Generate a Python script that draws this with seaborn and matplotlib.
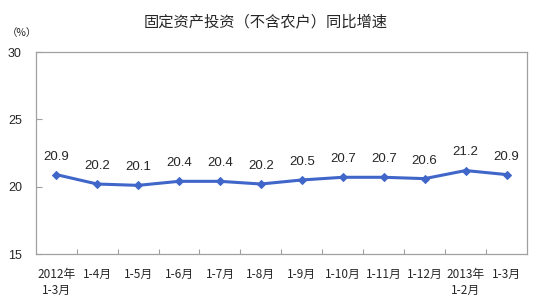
import matplotlib
matplotlib.use("Agg")
import matplotlib.pyplot as plt
import seaborn as sns
import pandas as pd
from matplotlib.ticker import FixedLocator

categories = ["2012年\n1-3月", "1-4月", "1-5月", "1-6月", "1-7月", "1-8月",
              "1-9月", "1-10月", "1-11月", "1-12月", "2013年\n1-2月", "1-3月"]
values = [20.9, 20.2, 20.1, 20.4, 20.4, 20.2, 20.5, 20.7, 20.7, 20.6, 21.2, 20.9]
yticks = [15, 20, 25, 30]
title = "固定资产投资（不含农户）同比增速"

sns.set_theme(style="white")
plt.rcParams['font.family'] = ['Noto Sans CJK SC', 'DejaVu Sans']
plt.rcParams['xtick.direction'] = 'in'
plt.rcParams['ytick.direction'] = 'in'

df = pd.DataFrame({"idx": range(len(categories)), "val": values})

fig = plt.figure(figsize=(5.53, 3.05), dpi=100)
ax = fig.add_axes([0.0646, 0.167, 0.8884, 0.6625])
color = "#3F66C8"
sns.lineplot(data=df, x="idx", y="val", ax=ax, color=color, linewidth=2.2,
             marker="D", markersize=4.5, markeredgecolor=color)

ax.set_xlim(-0.5, len(categories) - 0.5)
ax.set_ylim(15, 30)
ax.set_yticks(yticks)
ax.set_yticklabels([str(t) for t in yticks], fontsize=9, family=['Liberation Sans'])
ax.set_xticks(range(len(categories)))
ax.set_xticklabels(categories, fontsize=8.5, linespacing=1.25)
ax.xaxis.set_minor_locator(FixedLocator([i + 0.5 for i in range(len(categories) - 1)]))
ax.tick_params(axis='x', which='major', length=0, pad=10)
ax.tick_params(axis='x', which='minor', length=3.5, direction='in', color='#A0A0A0',
               width=0.8, bottom=True)
ax.tick_params(axis='y', which='major', length=4, direction='in', color='#A0A0A0',
               width=0.8, pad=10, left=True)
ax.set_xlabel("")
ax.set_ylabel("")
for sp in ax.spines.values():
    sp.set_color('#A0A0A0')
    sp.set_linewidth(0.9)

for i, v in enumerate(values):
    ax.annotate(f"{v}", (i, v), xytext=(0, 13), textcoords="offset points",
                ha="center", va="center", fontsize=9.5, family=['Liberation Sans'])

fig.text(0.48, 0.928, title, ha="center", va="center", fontsize=11)
fig.text(0.012, 0.893, "（%）", ha="left", va="center", fontsize=7.5)

fig.savefig("out.png", dpi=100)
